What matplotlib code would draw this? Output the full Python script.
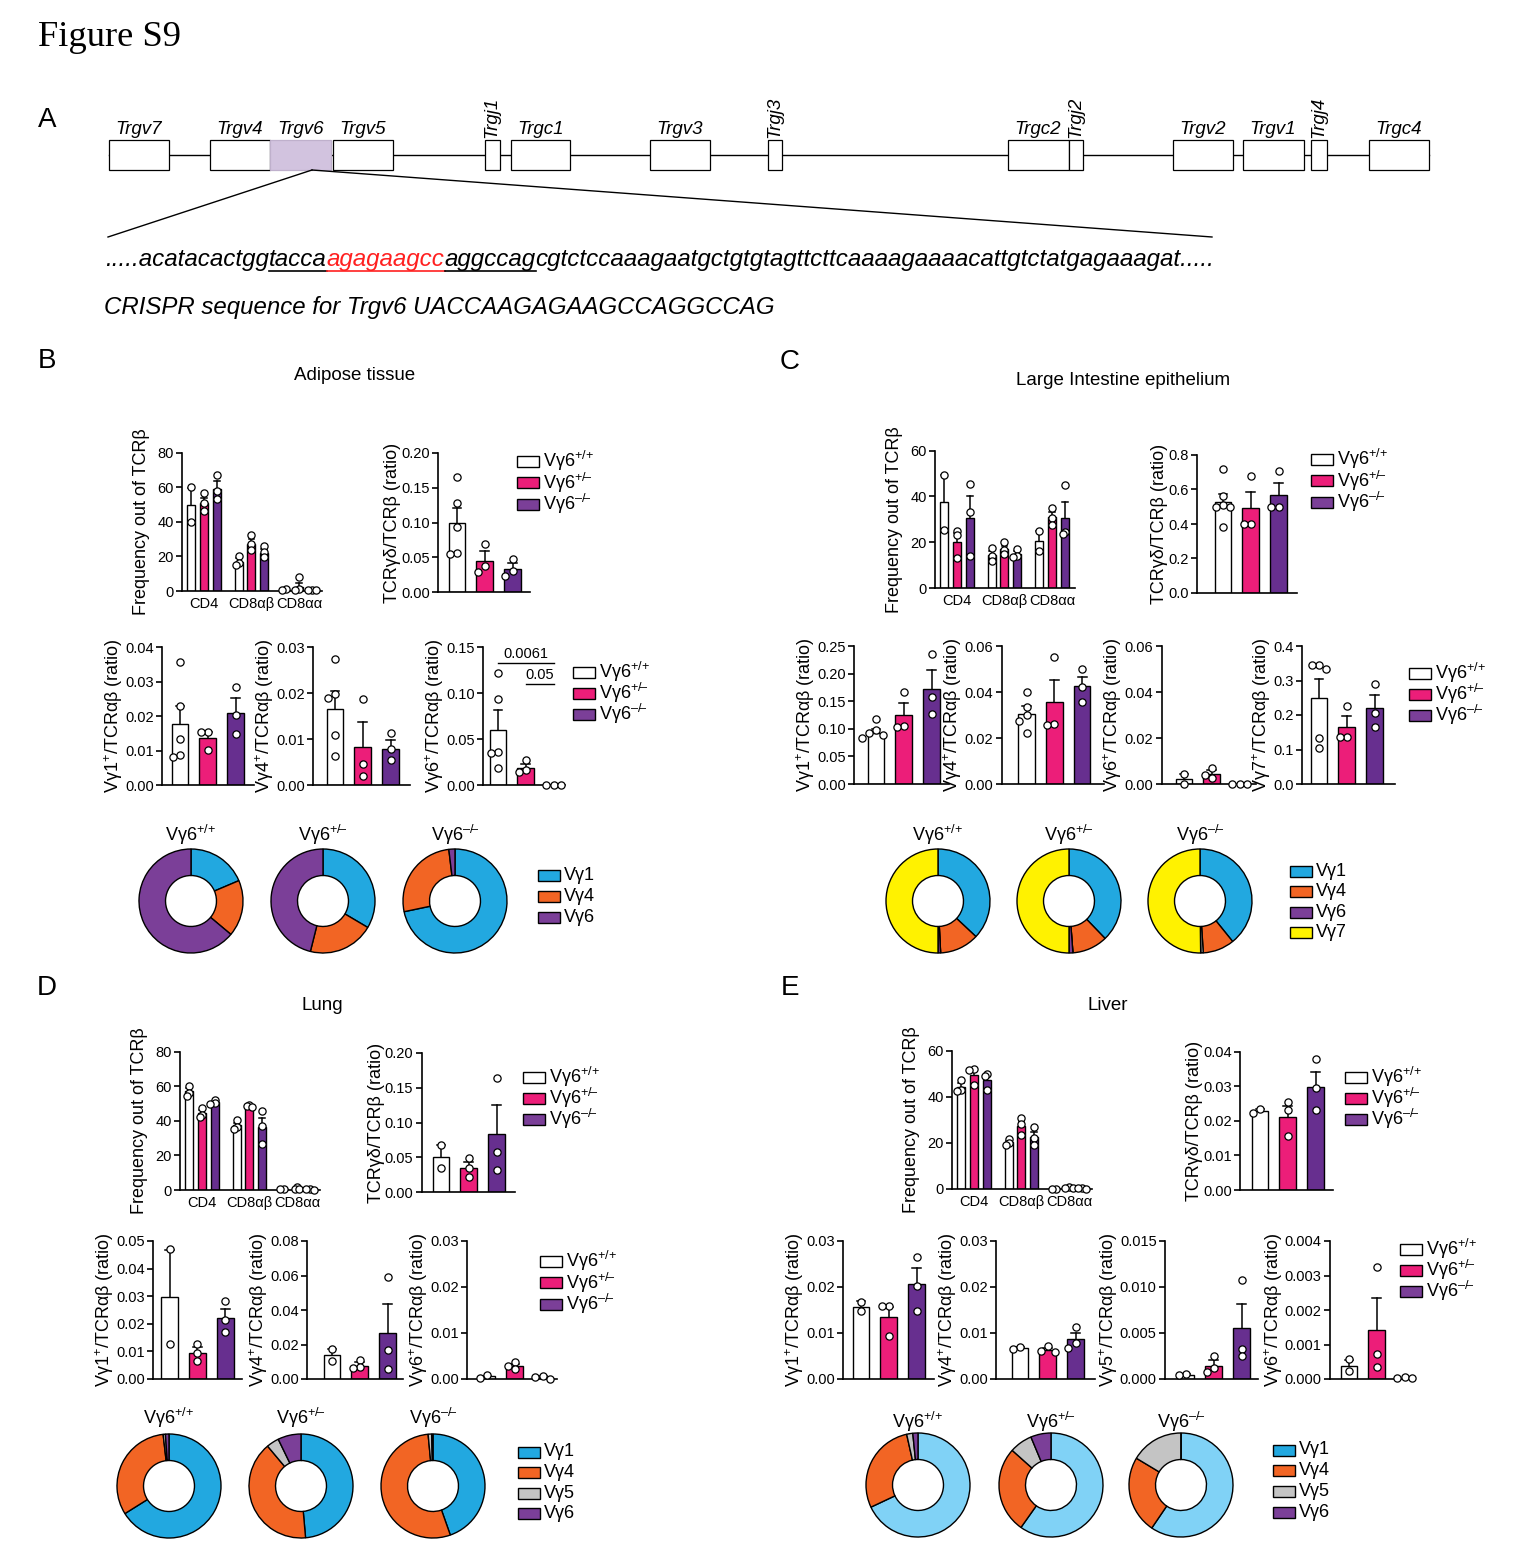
import numpy as np
import matplotlib
matplotlib.use("Agg")
import matplotlib.pyplot as plt
from matplotlib.patches import Rectangle
from matplotlib.ticker import FixedLocator, FormatStrFormatter

W, H = 1518, 1561

plt.rcParams['font.family'] = ['Liberation Sans', 'DejaVu Sans']
plt.rcParams['mathtext.fontset'] = 'custom'
plt.rcParams['mathtext.rm'] = 'Liberation Sans'
plt.rcParams['mathtext.it'] = 'Liberation Sans:italic'
plt.rcParams['mathtext.bf'] = 'Liberation Sans:bold'
plt.rcParams['mathtext.default'] = 'regular'

# ---------------- data ----------------
genotypes = ['Vγ6$^{+/\\!+}$', 'Vγ6$^{+/\\!–}$', 'Vγ6$^{–/\\!–}$']
subsets = ['CD4', 'CD8αβ', 'CD8αα']

# panel A schematic
gene_names = ['Trgv7', 'Trgv4', 'Trgv6', 'Trgv5', 'Trgj1', 'Trgc1', 'Trgv3',
              'Trgj3', 'Trgc2', 'Trgj2', 'Trgv2', 'Trgv1', 'Trgj4', 'Trgc4']
gene_left = [108.5, 209.5, 269.5, 332.5, 484.5, 511, 649.5, 767.5, 1007.5, 1068.5,
             1172.5, 1242.5, 1311, 1368.5]
gene_right = [168.5, 269.5, 331, 393, 500, 570, 709.5, 782, 1068.5, 1083,
              1232.5, 1303.5, 1326.5, 1429]
seq_parts = ['.....acatacactgg', 'tacca', 'agagaagcc', 'aggccag',
             'cgtctccaaagaatgctgtgtagttcttcaaaagaaaacattgtctatgagaaagat.....']
crispr_text = 'CRISPR sequence for Trgv6 UACCAAGAGAAGCCAGGCCAG'

# B: adipose tissue
adipose_freq_mean = [[49.8, 51.0, 59.0], [17.0, 27.0, 22.0], [0.8, 2.5, 0.5]]
adipose_freq_sem = [[10.0, 3.0, 4.5], [2.0, 3.0, 2.5], [0.3, 2.3, 0.2]]
adipose_freq_pts = [[[60, 40], [56.5, 51, 46], [67, 58, 53]],
                    [[20, 16, 15], [32.5, 27, 24], [26, 22.5, 19.5]],
                    [[1.0, 0.8], [8, 1, 0.5], [0.8, 0.5, 0.3]]]
adipose_gd_mean = [0.099, 0.045, 0.0335]
adipose_gd_sem = [0.022, 0.0135, 0.008]
adipose_gd_pts = [[0.166, 0.128, 0.094, 0.056, 0.054], [0.069, 0.037, 0.029], [0.047, 0.030, 0.023]]
adipose_v1_mean = [0.0177, 0.0135, 0.021]
adipose_v1_sem = [0.0052, 0.0020, 0.0041]
adipose_v1_pts = [[0.0357, 0.0229, 0.0133, 0.0087, 0.008], [0.0155, 0.0155, 0.0102], [0.0285, 0.0203, 0.0148]]
adipose_v4_mean = [0.0166, 0.0082, 0.0078]
adipose_v4_sem = [0.0038, 0.0054, 0.0019]
adipose_v4_pts = [[0.0275, 0.0198, 0.019, 0.0109, 0.0062], [0.0188, 0.0046, 0.002], [0.0113, 0.0078, 0.0055]]
adipose_v6_mean = [0.060, 0.019, 0.0]
adipose_v6_sem = [0.021, 0.004, 0.0]
adipose_v6_pts = [[0.122, 0.0934, 0.036, 0.035, 0.0184], [0.0274, 0.0166, 0.0137], [0.0, 0.0, 0.0]]
adipose_pvals = ['0.0061', '0.05']
adipose_pie = [[18.6, 17.5, 63.9], [33.5, 20.4, 46.1], [71.7, 26.4, 1.9]]

# C: large intestine epithelium
li_freq_mean = [[37.5, 20.3, 30.8], [14.5, 17.0, 15.0], [20.5, 31.0, 30.8]]
li_freq_sem = [[12.0, 3.8, 9.3], [1.6, 1.3, 1.0], [4.5, 2.3, 7.0]]
li_freq_pts = [[[49.5, 25.5], [25, 23, 13], [45.5, 33, 14]],
               [[17.5, 14, 12], [20, 16.5, 15], [17, 14, 13.5]],
               [[25, 16], [35, 30.5, 27.5], [45, 24.5, 23.5]]]
li_gd_mean = [0.53, 0.49, 0.57]
li_gd_sem = [0.045, 0.095, 0.07]
li_gd_pts = [[0.72, 0.565, 0.51, 0.50, 0.50, 0.38], [0.68, 0.40, 0.40], [0.71, 0.50, 0.50]]
li_v1_mean = [0.093, 0.125, 0.173]
li_v1_sem = [0.006, 0.021, 0.033]
li_v1_pts = [[0.117, 0.097, 0.093, 0.088, 0.084], [0.167, 0.105, 0.104], [0.235, 0.158, 0.127]]
li_v4_mean = [0.0305, 0.0355, 0.0425]
li_v4_sem = [0.0033, 0.0098, 0.004]
li_v4_pts = [[0.040, 0.0335, 0.030, 0.0275, 0.0222], [0.0551, 0.026, 0.0258], [0.0499, 0.042, 0.0355]]
li_v6_mean = [0.00225, 0.0044, 0.0]
li_v6_sem = [0.0022, 0.0015, 0.0]
li_v6_pts = [[0.0045, 0.0], [0.0068, 0.004, 0.0025], [0.0, 0.0, 0.0]]
li_v7_mean = [0.248, 0.165, 0.22]
li_v7_sem = [0.056, 0.032, 0.037]
li_v7_pts = [[0.345, 0.345, 0.333, 0.132, 0.105], [0.2255, 0.137, 0.135], [0.289, 0.205, 0.166]]
li_pie = [[37.0, 12.2, 0.0, 0.8, 50.0], [37.8, 11.0, 0.0, 1.2, 50.0], [39.2, 9.8, 0.8, 0.0, 50.2]]

# D: lung
lung_freq_mean = [[57.0, 44.5, 50.8], [37.4, 48.7, 36.4], [0.4, 0.9, 0.3]]
lung_freq_sem = [[2.0, 1.5, 0.8], [1.5, 0.4, 5.5], [0.1, 0.4, 0.1]]
lung_freq_pts = [[[60.4, 56, 54.6], [47.5, 43.5, 42.5], [52, 50.2, 49.8]],
                 [[40.3, 36.5, 35.5], [49.3, 48.6, 48.2], [45.8, 37.3, 26.7]],
                 [[0.5, 0.3], [1.5, 0.8, 0.5], [0.4, 0.3, 0.2]]]
lung_gd_mean = [0.0505, 0.035, 0.084]
lung_gd_sem = [0.0165, 0.0075, 0.041]
lung_gd_pts = [[0.067, 0.034], [0.049, 0.034, 0.022], [0.164, 0.058, 0.032]]
lung_v1_mean = [0.0297, 0.0095, 0.022]
lung_v1_sem = [0.0172, 0.0021, 0.0033]
lung_v1_pts = [[0.047, 0.0127], [0.0127, 0.0093, 0.0066], [0.0283, 0.0215, 0.0170]]
lung_v4_mean = [0.0139, 0.0078, 0.0268]
lung_v4_sem = [0.0037, 0.0021, 0.0167]
lung_v4_pts = [[0.0176, 0.0104], [0.0112, 0.0068, 0.0065], [0.0594, 0.0166, 0.0058]]
lung_v6_mean = [0.00055, 0.0028, 0.0004]
lung_v6_sem = [0.0002, 0.0005, 0.00015]
lung_v6_pts = [[0.0008, 0.0003], [0.0038, 0.0028, 0.0022], [0.0006, 0.0005, 0.0001]]
lung_pie = [[66.1, 32.1, 0.7, 1.1], [48.6, 40.3, 3.9, 7.2], [44.6, 53.9, 1.1, 0.4]]

# E: liver
liver_freq_mean = [[44.3, 49.6, 47.2], [20.2, 27.3, 22.7], [0.2, 0.5, 0.3]]
liver_freq_sem = [[1.8, 2.3, 2.3], [0.8, 2.1, 2.2], [0.1, 0.2, 0.1]]
liver_freq_pts = [[[47.3, 43, 42.7], [51.9, 51.8, 45.2], [49.9, 49, 42.8]],
                  [[21.6, 20, 19], [30.7, 28, 23.5], [26.8, 22.2, 19.2]],
                  [[0.2, 0.2], [0.8, 0.5, 0.3], [0.4, 0.3, 0.2]]]
liver_gd_mean = [0.0229, 0.0212, 0.0298]
liver_gd_sem = [0.0006, 0.0032, 0.0044]
liver_gd_pts = [[0.0234, 0.0222], [0.0255, 0.0231, 0.0156], [0.038, 0.0295, 0.0231]]
liver_v1_mean = [0.0157, 0.0135, 0.0207]
liver_v1_sem = [0.0012, 0.0022, 0.0034]
liver_v1_pts = [[0.0168, 0.0147], [0.0158, 0.0158, 0.0094], [0.0265, 0.0203, 0.0148]]
liver_v4_mean = [0.0067, 0.0062, 0.0086]
liver_v4_sem = [0.0002, 0.0006, 0.0013]
liver_v4_pts = [[0.0069, 0.0065], [0.0072, 0.006, 0.0058], [0.0112, 0.0079, 0.0068]]
liver_v5_mean = [0.00048, 0.00145, 0.0055]
liver_v5_sem = [0.00003, 0.0006, 0.0027]
liver_v5_pts = [[0.0005, 0.00046], [0.0025, 0.0012, 0.0008], [0.01075, 0.0033, 0.0025]]
liver_v6_mean = [0.00038, 0.00143, 0.00003]
liver_v6_sem = [0.00018, 0.00093, 0.0]
liver_v6_pts = [[0.00058, 0.00024], [0.00325, 0.00072, 0.00036], [0.00005, 0.00003, 0.00002]]
liver_pie = [[68.0, 28.5, 1.9, 1.6], [59.8, 26.8, 7.1, 6.3], [59.5, 24.1, 16.4, 0.0]]

# ---------------- colours ----------------
BAR_COLORS = ['white', '#ec1e79', '#672f8f']
LEG_COLORS = ['white', '#ec1e79', '#7b3f98']
BLUE, LBLUE, ORANGE = '#22a8e0', '#80d2f6', '#f26524'
GRAY, PURP, YELLOW = '#c4c4c4', '#7b3f98', '#fff200'

TICK_FS = 10.5
YLAB_FS = 13

fig = plt.figure(figsize=(W / 100, H / 100), dpi=100)
ov = fig.add_axes([0, 0, 1, 1])
ov.set_xlim(0, W)
ov.set_ylim(H, 0)
ov.axis('off')
renderer = fig.canvas.get_renderer()


def px_axes(x0, x1, ytop, ybot):
    ax = fig.add_axes([x0 / W, 1 - ybot / H, (x1 - x0) / W, (ybot - ytop) / H])
    ax.patch.set_alpha(0)
    return ax


def style_axis(ax, ymax, step, fmt, ylabel, pad):
    ax.set_ylim(0, ymax)
    n = int(round(ymax / step))
    ax.yaxis.set_major_locator(FixedLocator(np.linspace(0, ymax, n + 1)))
    ax.yaxis.set_major_formatter(FormatStrFormatter(fmt))
    for s in ['top', 'right']:
        ax.spines[s].set_visible(False)
    for s in ['left', 'bottom']:
        ax.spines[s].set_linewidth(1.2)
    ax.tick_params(axis='y', direction='out', length=4, width=1.2, labelsize=TICK_FS, pad=2)
    ax.set_ylabel(ylabel, fontsize=YLAB_FS, labelpad=pad)


def swarm(ax, xc, vals, min_d, step):
    # simple beeswarm in pixel space
    pos = ax.get_position()
    xl, yl = ax.get_xlim(), ax.get_ylim()
    sx = pos.width * W / (xl[1] - xl[0])
    sy = pos.height * H / (yl[1] - yl[0])
    placed, xs = [], []
    for v in vals:
        yp = v * sy
        for k in [0, -1, 1, -2, 2, -3, 3]:
            xp = k * step
            if all((xp - a) ** 2 + (yp - b) ** 2 >= min_d ** 2 for a, b in placed):
                break
        placed.append((xp, yp))
        xs.append(xc + xp / sx)
    return xs


def draw_bars(ax, xs, means, sems, pts, width, cap, min_d, step):
    for x, m, s, p, c in zip(xs, means, sems, pts, BAR_COLORS):
        ax.bar(x, m, width, color=c, edgecolor='k', linewidth=1.0, zorder=2)
        if s > 0:
            ax.plot([x, x], [m, m + s], color='k', lw=1.1, zorder=3)
            ax.plot([x - cap, x + cap], [m + s, m + s], color='k', lw=1.1, zorder=3)
        px = swarm(ax, x, p, min_d, step)
        ax.plot(px, p, 'o', ms=5.2, mfc='white', mec='k', mew=0.9, zorder=4,
                clip_on=False, linestyle='none')


def freq_panel(xaxis, ytop, ybot, means, sems, pts, ymax):
    ppu = 47.6
    left = -0.27 - 9 / ppu
    ax = px_axes(xaxis, xaxis + 140, ytop, ybot)
    ax.set_xlim(left, left + 140 / ppu)
    style_axis(ax, ymax, 20, '%d', 'Frequency out of TCRβ', 5)
    for g in range(3):
        draw_bars(ax, [g - 0.27, g, g + 0.27], means[g], sems[g], pts[g], 0.17, 0.06, 2.5, 2.2)
    ax.set_xticks(range(3))
    ax.set_xticklabels(subsets, fontsize=TICK_FS)
    ax.tick_params(axis='x', length=0, pad=4)
    return ax


def ratio_panel(xaxis, c0, xend, ytop, ybot, means, sems, pts, ymax, step, fmt, ylabel):
    ppu = 27.8
    left = -(c0 - xaxis) / ppu
    ax = px_axes(xaxis, xend, ytop, ybot)
    ax.set_xlim(left, left + (xend - xaxis) / ppu)
    style_axis(ax, ymax, step, fmt, ylabel, 0)
    draw_bars(ax, [0, 1, 2], means, sems, pts, 0.6, 0.16, 7.2, 7.2)
    ax.set_xticks([])
    return ax


def legend_rows(x, y0, dy, labels, colors):
    for i, (lab, c) in enumerate(zip(labels, colors)):
        y = y0 + i * dy
        ov.add_patch(Rectangle((x, y - 5.5), 22, 11, facecolor=c, edgecolor='k', lw=1.0))
        ov.text(x + 26, y, lab, va='center', ha='left', fontsize=13)


def donut(cx, cy, ty, vals, colors, title):
    R = 52
    ax = px_axes(cx - R - 2, cx + R + 2, cy - R - 2, cy + R + 2)
    ax.pie(vals, colors=colors, startangle=90, counterclock=False, radius=1,
           wedgeprops=dict(width=0.51, edgecolor='k', linewidth=1.0))
    lim = (R + 2) / R
    ax.set_xlim(-lim, lim)
    ax.set_ylim(-lim, lim)
    ov.text(cx, ty, title, ha='center', va='center', fontsize=13)


def fit_text(x, y, s, target_w, fs0, **kw):
    t = ov.text(x, y, s, fontsize=fs0, ha='left', va='baseline', **kw)
    w = t.get_window_extent(renderer).width
    t.set_fontsize(fs0 * target_w / w)
    return t


def ylab(v):
    return 'Vγ%s$^{+}$/TCRαβ (ratio)' % v


GD_LABEL = 'TCRγδ/TCRβ (ratio)'

# ---------------- header & panel A ----------------
fit_text(38, 46, 'Figure S9', 143, 26, family='Liberation Serif')
for lab, (x, y) in zip('ABCDE', [(47, 120), (47, 361), (790, 362), (47, 988), (790, 988)]):
    ov.text(x, y, lab, fontsize=20, ha='center', va='center')

ov.plot([gene_left[0], gene_right[-1]], [155, 155], color='k', lw=1.0, zorder=1)
for name, l, r in zip(gene_names, gene_left, gene_right):
    fc = '#d2c3df' if name == 'Trgv6' else 'white'
    ec = '#bfb0cc' if name == 'Trgv6' else 'k'
    ov.add_patch(Rectangle((l, 140), r - l, 30, facecolor=fc, edgecolor=ec, lw=0.9, zorder=2))
    if 'j' in name:
        ov.text((l + r) / 2, 138, name, rotation=90, ha='center', va='bottom',
                fontsize=13.5, style='italic')
    else:
        ov.text((l + r) / 2, 129, name, ha='center', va='center', fontsize=13.5, style='italic')
ov.plot([312, 108], [170, 237], color='k', lw=1.0)
ov.plot([312, 1212], [170, 237], color='k', lw=1.0)

# sequence line, fitted to its width in the reference
seq_colors = ['k', 'k', '#ff2020', 'k', 'k']
seq_under = [False, True, True, True, False]
fs = 16
for attempt in range(2):
    x = 105
    arts = []
    for part, col in zip(seq_parts, seq_colors):
        t = ov.text(x, 266, part, fontsize=fs, style='italic', color=col, ha='left', va='baseline')
        bb = t.get_window_extent(renderer)
        arts.append((t, x, bb.x1))
        x = bb.x1
    if attempt == 0:
        for t, _, _ in arts:
            t.remove()
        fs = fs * (1213 - 105) / (x - 105)
for (t, x0, x1), col, und in zip(arts, seq_colors, seq_under):
    if und:
        ov.plot([x0, x1], [270.5, 270.5], color=col, lw=1.2)
fit_text(104, 314, crispr_text, 673, 16, style='italic')

# ---------------- panel B ----------------
ov.text(355, 375, 'Adipose tissue', ha='center', va='center', fontsize=13.5)
freq_panel(182, 452.7, 591, adipose_freq_mean, adipose_freq_sem, adipose_freq_pts, 80)
ratio_panel(438, 457, 530, 453, 592, adipose_gd_mean, adipose_gd_sem, adipose_gd_pts,
            0.20, 0.05, '%.2f', GD_LABEL)
legend_rows(517, 461, 21.5, genotypes, LEG_COLORS)
ratio_panel(162, 180, 254, 647, 785, adipose_v1_mean, adipose_v1_sem, adipose_v1_pts,
            0.04, 0.01, '%.2f', ylab('1'))
ratio_panel(313, 335, 410, 647, 785, adipose_v4_mean, adipose_v4_sem, adipose_v4_pts,
            0.03, 0.01, '%.2f', ylab('4'))
axb5 = ratio_panel(483, 498, 565, 647, 785, adipose_v6_mean, adipose_v6_sem, adipose_v6_pts,
                   0.15, 0.05, '%.2f', ylab('6'))
axb5.plot([0, 2], [0.1326, 0.1326], color='k', lw=1.0, clip_on=False)
axb5.text(1, 0.1345, adipose_pvals[0], ha='center', va='bottom', fontsize=10.5)
axb5.plot([1, 2], [0.1098, 0.1098], color='k', lw=1.0, clip_on=False)
axb5.text(1.5, 0.1117, adipose_pvals[1], ha='center', va='bottom', fontsize=10.5)
legend_rows(573, 672, 21, genotypes, LEG_COLORS)
for cx, vals, g in zip([191, 323, 455], adipose_pie, genotypes):
    donut(cx, 901, 835, vals, [BLUE, ORANGE, PURP], g)
legend_rows(538, 875, 21, ['Vγ1', 'Vγ4', 'Vγ6'], [BLUE, ORANGE, PURP])

# ---------------- panel C ----------------
ov.text(1123, 380, 'Large Intestine epithelium', ha='center', va='center', fontsize=13.5)
freq_panel(935, 450.7, 588, li_freq_mean, li_freq_sem, li_freq_pts, 60)
ratio_panel(1197, 1223, 1297, 455, 593, li_gd_mean, li_gd_sem, li_gd_pts,
            0.8, 0.2, '%.1f', GD_LABEL)
legend_rows(1311, 459, 21.5, genotypes, LEG_COLORS)
ratio_panel(854, 876, 949, 646, 784, li_v1_mean, li_v1_sem, li_v1_pts,
            0.25, 0.05, '%.2f', ylab('1'))
ratio_panel(1001.5, 1026.5, 1104, 646, 784, li_v4_mean, li_v4_sem, li_v4_pts,
            0.06, 0.02, '%.2f', ylab('4'))
ratio_panel(1161.5, 1184, 1256, 646, 784, li_v6_mean, li_v6_sem, li_v6_pts,
            0.06, 0.02, '%.2f', ylab('6'))
ratio_panel(1302, 1319, 1395, 646, 784, li_v7_mean, li_v7_sem, li_v7_pts,
            0.4, 0.1, '%.1f', ylab('7'))
legend_rows(1409, 673, 21, genotypes, LEG_COLORS)
for cx, vals, g in zip([938, 1069, 1200], li_pie, genotypes):
    donut(cx, 901, 835, vals, [BLUE, ORANGE, GRAY, PURP, YELLOW], g)
legend_rows(1290, 871, 20.5, ['Vγ1', 'Vγ4', 'Vγ6', 'Vγ7'], [BLUE, ORANGE, PURP, YELLOW])

# ---------------- panel D ----------------
ov.text(322, 1005, 'Lung', ha='center', va='center', fontsize=13.5)
freq_panel(180, 1051.7, 1190, lung_freq_mean, lung_freq_sem, lung_freq_pts, 80)
ratio_panel(421.7, 441, 515, 1053, 1192, lung_gd_mean, lung_gd_sem, lung_gd_pts,
            0.20, 0.05, '%.2f', GD_LABEL)
legend_rows(523, 1077, 21, genotypes, LEG_COLORS)
ratio_panel(153, 169.6, 242, 1241, 1379, lung_v1_mean, lung_v1_sem, lung_v1_pts,
            0.05, 0.01, '%.2f', ylab('1'))
ratio_panel(307, 332, 403, 1241, 1379, lung_v4_mean, lung_v4_sem, lung_v4_pts,
            0.08, 0.02, '%.2f', ylab('4'))
ratio_panel(467, 487, 557, 1241, 1379, lung_v6_mean, lung_v6_sem, lung_v6_pts,
            0.03, 0.01, '%.2f', ylab('6'))
legend_rows(540, 1261, 21.5, genotypes, LEG_COLORS)
for cx, vals, g in zip([169, 301, 433], lung_pie, genotypes):
    donut(cx, 1486, 1418, vals, [BLUE, ORANGE, GRAY, PURP], g)
legend_rows(518, 1452, 20.5, ['Vγ1', 'Vγ4', 'Vγ5', 'Vγ6'], [BLUE, ORANGE, GRAY, PURP])

# ---------------- panel E ----------------
ov.text(1108, 1005, 'Liver', ha='center', va='center', fontsize=13.5)
freq_panel(952, 1050.7, 1189, liver_freq_mean, liver_freq_sem, liver_freq_pts, 60)
ratio_panel(1240, 1260, 1333, 1051.7, 1190, liver_gd_mean, liver_gd_sem, liver_gd_pts,
            0.04, 0.01, '%.2f', GD_LABEL)
legend_rows(1345, 1077, 21, genotypes, LEG_COLORS)
ratio_panel(843, 861, 934, 1241, 1379, liver_v1_mean, liver_v1_sem, liver_v1_pts,
            0.03, 0.01, '%.2f', ylab('1'))
ratio_panel(996, 1020, 1095, 1241, 1379, liver_v4_mean, liver_v4_sem, liver_v4_pts,
            0.03, 0.01, '%.2f', ylab('4'))
ratio_panel(1165, 1186, 1258, 1241, 1379, liver_v5_mean, liver_v5_sem, liver_v5_pts,
            0.015, 0.005, '%.3f', ylab('5'))
ratio_panel(1330, 1349, 1415, 1241, 1379, liver_v6_mean, liver_v6_sem, liver_v6_pts,
            0.004, 0.001, '%.3f', ylab('6'))
legend_rows(1400, 1249, 21, genotypes, LEG_COLORS)
for cx, vals, g in zip([918, 1051, 1181], liver_pie, genotypes):
    donut(cx, 1485, 1422, vals, [LBLUE, ORANGE, GRAY, PURP], g)
legend_rows(1273, 1450, 20.7, ['Vγ1', 'Vγ4', 'Vγ5', 'Vγ6'], [BLUE, ORANGE, GRAY, PURP])

fig.savefig('out.png', dpi=100)
